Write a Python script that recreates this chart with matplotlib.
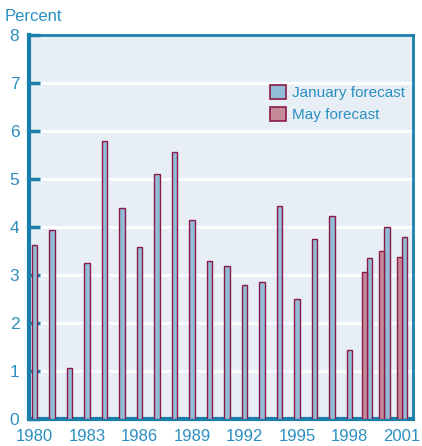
import matplotlib.pyplot as plt
import numpy as np
from matplotlib.patches import Patch

plt.rcParams['font.family'] = ['Liberation Sans', 'DejaVu Sans']

years = np.arange(1980, 2002)
january = [3.63, 3.94, 1.06, 3.25, 5.80, 4.40, 3.58, 5.10, 5.56, 4.15, 3.30,
           3.19, 2.80, 2.85, 4.44, 2.49, 3.76, 4.23, 1.43, 3.35, 4.01, 3.79]
may_years = [1999, 2000, 2001]
may = [3.06, 3.51, 3.37]

blue = '#93bcd6'
mauve = '#c48a98'
edge = '#8b1a4a'
txt = '#2a8fc0'
spine = '#1a80ab'
bg = '#e8eef5'

fig = plt.figure(figsize=(4.22, 4.46), dpi=100)
ax = fig.add_axes([0.0687, 0.0605, 0.91, 0.861])
ax.set_facecolor(bg)

w = 0.3
# january bars: alone before 1999, shifted right when paired with may
jan_x = [y + w / 2 if y in may_years else y for y in years]
ax.bar(jan_x, january, width=w, color=blue, edgecolor=edge, linewidth=1, zorder=3)
ax.bar(np.array(may_years) - w / 2, may, width=w, color=mauve, edgecolor=edge,
       linewidth=1, zorder=3)

ax.set_xlim(1979.69, 2001.63)
ax.set_ylim(0, 8)
ax.set_yticks(range(0, 9))
ax.set_xticks(range(1980, 2002, 3))
ax.grid(axis='y', color='white', linewidth=2, zorder=1)
ax.set_axisbelow(True)

ax.tick_params(axis='y', direction='in', length=8, width=2.5, color=spine,
               labelcolor=txt, labelsize=12.5, pad=7)
ax.tick_params(axis='x', length=0, labelcolor=txt, labelsize=12, pad=7)
for s in ['left', 'bottom']:
    ax.spines[s].set_color(spine)
    ax.spines[s].set_linewidth(3)
for s in ['top', 'right']:
    ax.spines[s].set_color(spine)
    ax.spines[s].set_linewidth(2)

fig.text(0.012, 0.962, 'Percent', color=txt, fontsize=12, va='center')

handles = [Patch(facecolor=blue, edgecolor=edge, linewidth=1.2),
           Patch(facecolor=mauve, edgecolor=edge, linewidth=1.2)]
leg = ax.legend(handles, ['January forecast', 'May forecast'],
                loc='upper left', bbox_to_anchor=(0.607, 0.89), frameon=False,
                fontsize=11, handlelength=1.05, handleheight=1.05,
                handletextpad=0.4, labelspacing=0.45, borderpad=0)
for t in leg.get_texts():
    t.set_color(txt)

fig.savefig('out.png', dpi=100)
